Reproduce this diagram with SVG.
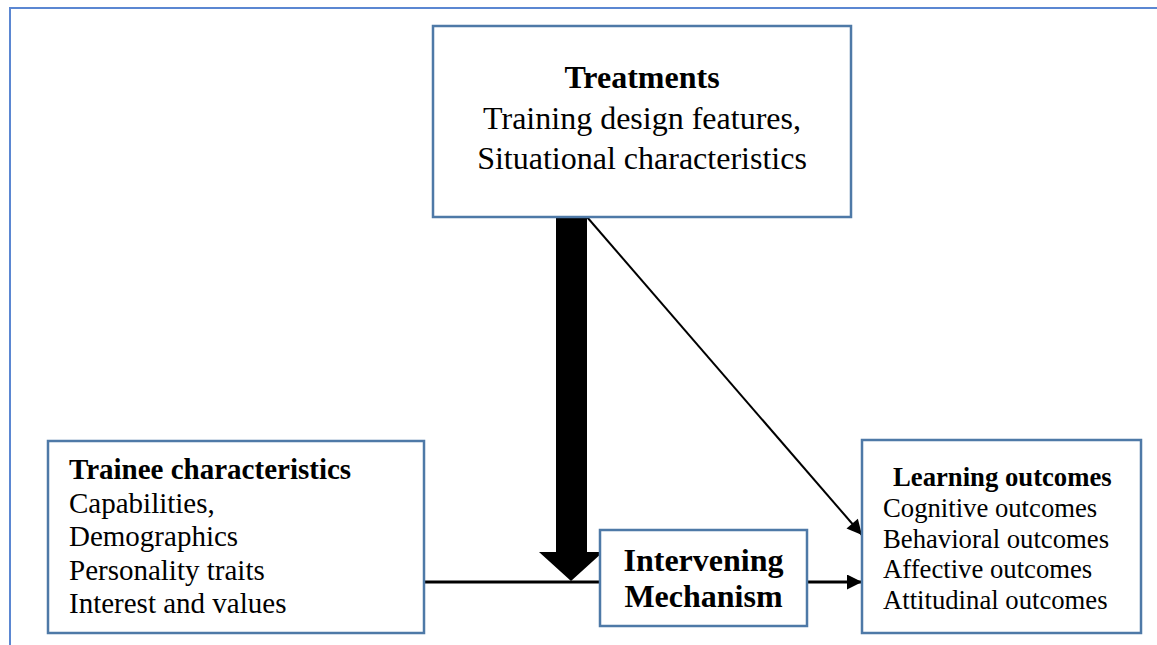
<svg xmlns="http://www.w3.org/2000/svg" width="1157" height="645" viewBox="0 0 1157 645">
<style>
.box{fill:#fff;stroke:#4e79a7;stroke-width:2.5}
.t{font-family:"Liberation Serif","Times New Roman",serif;fill:#000}
.b{font-weight:bold}
.ln{stroke:#000;fill:none}
</style>
<defs>
<marker id="ah" viewBox="0 0 10 10" refX="10" refY="5" markerWidth="5" markerHeight="5" orient="auto" markerUnits="strokeWidth">
<path d="M0,0 L10,5 L0,10 z" fill="#000"/>
</marker>
<marker id="ah2" viewBox="0 0 10 10" refX="10" refY="5" markerWidth="8.5" markerHeight="7.5" orient="auto" markerUnits="strokeWidth">
<path d="M0,0 L10,5 L0,10 z" fill="#000"/>
</marker>
</defs>
<rect width="1157" height="645" fill="#fff"/>
<rect x="10" y="8" width="1200" height="700" fill="none" stroke="#5b87d2" stroke-width="2"/>
<g id="connectors">
<polygon points="556,217 587,217 587,552 603,552 571,581 539,552 556,552" fill="#000"/>
<line class="ln" x1="587" y1="217" x2="862" y2="535" stroke-width="2" marker-end="url(#ah2)"/>
<line class="ln" x1="424" y1="582" x2="600" y2="582" stroke-width="3"/>
<line class="ln" x1="807" y1="582" x2="862" y2="582" stroke-width="3" marker-end="url(#ah)"/>
</g>
<g id="treatments">
<rect class="box" x="433" y="26" width="418" height="191"/>
<text class="t b" x="642" y="88" font-size="32" text-anchor="middle">Treatments</text>
<text class="t" x="642" y="129" font-size="32" text-anchor="middle">Training design features,</text>
<text class="t" x="642" y="169" font-size="32" text-anchor="middle">Situational characteristics</text>
</g>
<g id="trainee">
<rect class="box" x="48" y="441" width="376" height="192"/>
<text class="t b" x="69" y="479" font-size="29">Trainee characteristics</text>
<text class="t" x="69" y="513" font-size="29">Capabilities,</text>
<text class="t" x="69" y="546" font-size="29">Demographics</text>
<text class="t" x="69" y="580" font-size="29">Personality traits</text>
<text class="t" x="69" y="613" font-size="29">Interest and values</text>
</g>
<g id="intervening">
<rect class="box" x="600" y="530" width="207" height="96"/>
<text class="t b" x="703.5" y="571" font-size="32" text-anchor="middle">Intervening</text>
<text class="t b" x="703.5" y="607" font-size="32" text-anchor="middle">Mechanism</text>
</g>
<g id="learning">
<rect class="box" x="862" y="440" width="279" height="193"/>
<text class="t b" x="893" y="486" font-size="26.7">Learning outcomes</text>
<text class="t" x="883" y="517" font-size="26.7">Cognitive outcomes</text>
<text class="t" x="883" y="548" font-size="26.7">Behavioral outcomes</text>
<text class="t" x="883" y="578" font-size="26.7">Affective outcomes</text>
<text class="t" x="883" y="609" font-size="26.7">Attitudinal outcomes</text>
</g>
</svg>
